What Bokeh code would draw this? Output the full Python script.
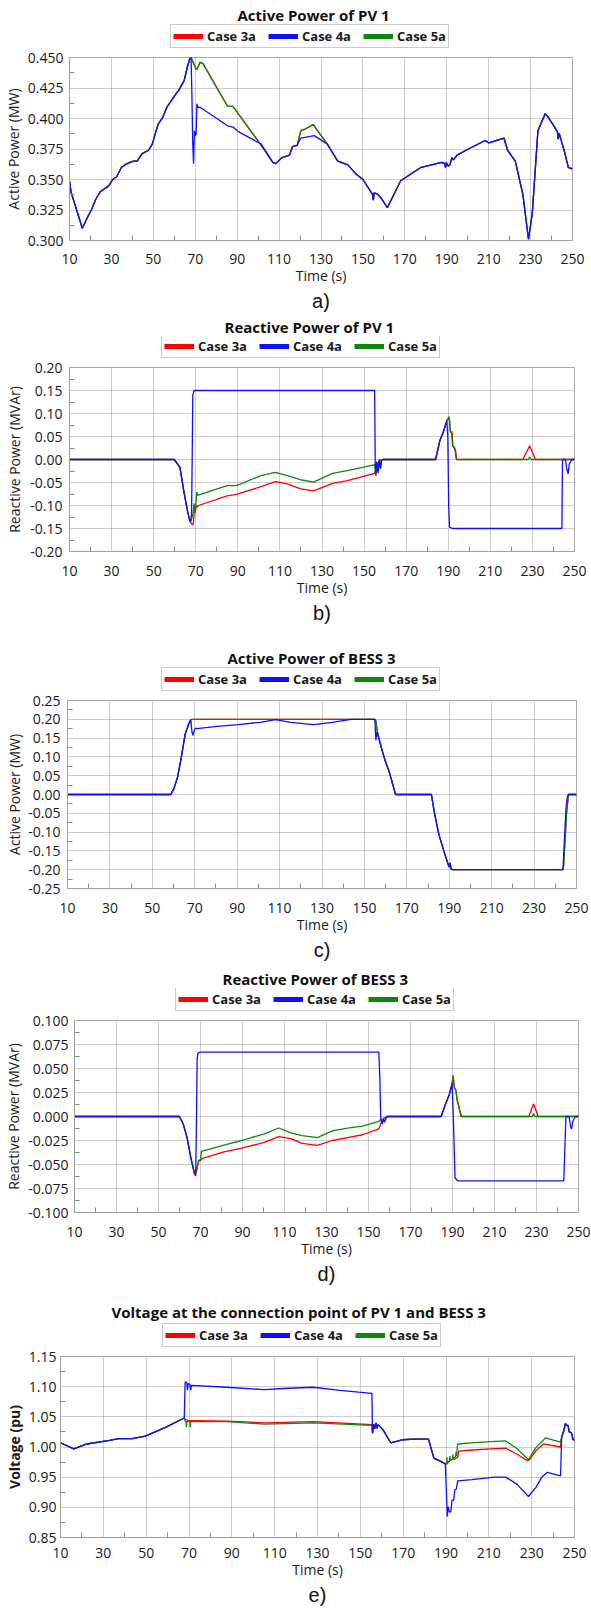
from bokeh.plotting import figure
from bokeh.models import (Legend, LegendItem, Title, FixedTicker,
                          NumeralTickFormatter, Range1d)
from bokeh.embed import file_html
from bokeh.resources import INLINE

FONT = "Open Sans"
CAP_FONT = "Liberation Sans"
RED, BLUE, GREEN = "#ff0000", "#1010ff", "#0f870f"
CASES = ["Case 3a", "Case 4a", "Case 5a"]
X_TICKS = list(range(10, 251, 20))
X_MINOR = list(range(20, 250, 20))
NAN = float("nan")


def splice(bt, bv, *segs):
    t, v = list(bt), list(bv)
    for st, sv in segs:
        before = [(a, b) for a, b in zip(t, v) if a < st[0]]
        after = [(a, b) for a, b in zip(t, v) if a > st[-1]]
        merged = before + list(zip(st, sv)) + after
        t = [m[0] for m in merged]
        v = [m[1] for m in merged]
    return t, v

# ---------------- a) Active Power of PV 1 ----------------
a_t_4a = [10, 10.7, 16.1, 18.6, 20.4, 22.6, 24.7, 28.8, 30.6, 32.4, 34.8, 37.5, 40.5, 42.3,
          44.5, 47.7, 49.5, 52.2, 54.5, 56.7, 60.3, 62.1, 64.7, 66.2, 67.4, 68.0, 68.4, 68.8,
          69.2, 69.6, 70.0, 70.4, 70.8, 71.3, 72.5, 85.4, 88.0, 90.8, 101.5, 107.0, 108.4,
          111.4, 115.0, 116.4, 118.6, 120.4, 126.7, 133.0, 138.0, 142.8, 146.4, 150.0, 154.5,
          155.0, 155.3, 157.0, 158.6, 161.7, 168.0, 177.8, 187.7, 189.0, 189.4, 189.8, 190.6,
          191.5, 192.5, 193.2, 194.9, 200.3, 208.3, 210.1, 217.3, 219.0, 222.7, 226.3, 229.0,
          230.8, 233.5, 237.0, 238.0, 240.7, 242.8, 243.2, 243.6, 246.0, 248.0, 249.2, 250.0]
a_v_4a = [0.349, 0.340, 0.310, 0.319, 0.325, 0.334, 0.340, 0.345, 0.350, 0.352, 0.360, 0.363,
          0.365, 0.365, 0.371, 0.374, 0.379, 0.395, 0.401, 0.410, 0.419, 0.423, 0.431, 0.442,
          0.449, 0.450, 0.420, 0.380, 0.363, 0.390, 0.386, 0.387, 0.412, 0.409, 0.409, 0.394,
          0.393, 0.389, 0.379, 0.364, 0.363, 0.368, 0.370, 0.377, 0.378, 0.384, 0.386, 0.379,
          0.365, 0.362, 0.355, 0.350, 0.338, 0.333, 0.339, 0.338, 0.335, 0.327, 0.349, 0.360,
          0.364, 0.363, 0.360, 0.364, 0.361, 0.362, 0.368, 0.366, 0.370, 0.375, 0.382, 0.380,
          0.384, 0.374, 0.365, 0.338, 0.301, 0.322, 0.390, 0.404, 0.402, 0.395, 0.389, 0.383,
          0.388, 0.374, 0.360, 0.359, 0.359]
a_seg1_t = [68.0, 69.0, 70.0, 70.7, 72.3, 73.7, 85.4, 88.0, 101.5]
a_seg1_v = [0.450, 0.446, 0.442, 0.440, 0.446, 0.445, 0.410, 0.410, 0.378]
a_seg2_t = [118.6, 120.4, 122.0, 126.3, 133.0]
a_seg2_v = [0.378, 0.390, 0.391, 0.395, 0.379]

# ---------------- b) Reactive Power of PV 1 ----------------
b_t_4a = [10, 59.8, 62.5, 64.3, 66.0, 67.0, 67.5, 68.0, 68.3, 68.6, 69.2, 155.0, 155.3, 155.6,
          156.0, 156.6, 157.2, 157.8, 158.3, 159.0, 184.0, 186.0, 187.9, 189.3, 189.8, 190.2,
          190.6, 192.0, 244.0, 244.3, 245.7, 246.3, 247.0, 247.5, 248.8, 250]
b_v_4a = [0, 0, -0.017, -0.068, -0.110, -0.130, -0.136, -0.120, 0.0, 0.140, 0.150, 0.150,
          -0.010, -0.035, -0.005, -0.030, -0.002, -0.020, -0.002, 0.0, 0.0, 0.041, 0.063, 0.084,
          0.050, -0.100, -0.147, -0.150, -0.150, 0.0, 0.0, -0.020, -0.031, -0.010, 0.0, 0.0]
b_t_5a_1 = [67.5, 68.3, 68.7, 69.2, 69.7, 70.2, 70.5, 70.9, 84.9, 89.3, 101.0, 107.8, 113.5,
            119.8, 126.0, 135.0, 142.0, 149.3, 155.0, 155.6, 156.0, 156.6, 157.2, 158.0]
b_v_5a_1 = [-0.136, -0.125, -0.118, -0.095, -0.115, -0.090, -0.071, -0.078, -0.057, -0.057,
            -0.035, -0.028, -0.035, -0.044, -0.049, -0.030, -0.024, -0.017, -0.011, -0.030,
            -0.005, -0.025, -0.002, 0.0]
b_t_5a_2 = [184.0, 186.0, 187.9, 189.3, 190.0, 190.5, 191.0, 191.6, 192.0, 192.6, 193.2,
            193.8, 228.0, 228.7, 229.4, 250]
b_v_5a_2 = [0.0, 0.041, 0.063, 0.084, 0.090, 0.093, 0.060, 0.058, 0.030, 0.026, 0.020, 0.0,
            0.0, 0.005, 0.0, 0.0]
b_t_3a_1 = [67.5, 67.9, 68.8, 69.4, 69.8, 70.2, 70.5, 71.3, 84.9, 89.3, 101.0, 107.8, 113.5,
            119.8, 126.0, 135.0, 142.0, 149.3, 155.0, 155.6, 156.5, 157.5]
b_v_3a_1 = [-0.136, -0.140, -0.142, -0.110, -0.116, -0.100, -0.104, -0.100, -0.079, -0.076,
            -0.059, -0.048, -0.053, -0.064, -0.068, -0.052, -0.046, -0.037, -0.030, -0.020,
            -0.010, 0.0]
b_t_3a_2 = [184.0, 186.0, 187.9, 189.3, 190.0, 190.5, 191.0, 191.8, 192.2, 192.8, 193.5,
            194.0, 225.5, 228.7, 231.4, 250]
b_v_3a_2 = [0.0, 0.041, 0.063, 0.084, 0.088, 0.091, 0.060, 0.060, 0.030, 0.028, 0.020, 0.0,
            0.0, 0.030, 0.0, 0.0]

# ---------------- c) Active Power of BESS 3 ----------------
c_t_4a = [10, 58.7, 60.1, 61.9, 63.7, 65.5, 67.2, 68.1, 68.7, 69.2, 69.7, 70.4, 71.0, 80.6,
          90.4, 101.0, 108.1, 115.2, 125.9, 134.8, 143.7, 154.9, 155.4, 155.9, 156.5, 157.9,
          159.7, 161.5, 164.7, 181.6, 182.8, 185.0, 187.3, 189.9, 190.4, 190.8, 191.5, 243.6,
          245.0, 245.6, 246.2, 250]
c_v_4a = [0, 0, 0.015, 0.046, 0.100, 0.161, 0.188, 0.199, 0.166, 0.157, 0.170, 0.177, 0.175,
          0.181, 0.186, 0.192, 0.199, 0.192, 0.186, 0.192, 0.200, 0.200, 0.144, 0.166, 0.155,
          0.126, 0.091, 0.064, 0.0, 0.0, -0.042, -0.104, -0.148, -0.193, -0.182, -0.198, -0.200,
          -0.200, -0.042, -0.008, 0.0, 0.0]
c_t_5a_1 = [68.1, 69.0, 154.9, 155.4, 156.0, 157.9]
c_v_5a_1 = [0.199, 0.200, 0.200, 0.195, 0.170, 0.126]
c_t_5a_2 = [243.6, 243.9, 245.3, 246.2]
c_v_5a_2 = [-0.200, -0.190, -0.050, 0.0]

# ---------------- d) Reactive Power of BESS 3 ----------------
d_t_4a = [10, 60, 61.8, 63.6, 65.4, 67.2, 67.7, 68.0, 68.4, 68.8, 69.9, 154.9, 155.4, 155.8,
          156.5, 157.1, 157.6, 158.8, 184.6, 186.7, 188.5, 189.8, 190.4, 191.2, 192.5, 243.0,
          244.0, 245.5, 246.2, 246.7, 247.3, 248.4, 250]
d_v_4a = [0, 0, -0.008, -0.022, -0.043, -0.060, -0.058, -0.020, 0.060, 0.066, 0.067, 0.067,
          0.040, -0.001, -0.008, -0.002, -0.006, 0.0, 0.0, 0.013, 0.023, 0.034, 0.0, -0.064,
          -0.067, -0.067, 0.0, 0.0, -0.010, -0.013, -0.005, 0.0, 0.0]
d_t_5a_1 = [67.7, 68.1, 69.0, 70.0, 70.5, 71.0, 80.7, 89.6, 100.4, 107.3, 113.0, 118.4, 125.6,
            132.8, 140.0, 147.2, 154.9, 155.8, 156.5, 157.1, 158.8]
d_v_5a_1 = [-0.058, -0.057, -0.046, -0.045, -0.036, -0.036, -0.030, -0.025, -0.018, -0.012,
            -0.017, -0.020, -0.022, -0.015, -0.012, -0.010, -0.005, -0.003, -0.008, -0.002, 0.0]
d_t_5a_2 = [184.6, 186.7, 188.5, 189.8, 190.3, 190.8, 191.6, 192.2, 192.8, 193.5, 194.4,
            228.0, 228.6, 229.2, 250]
d_v_5a_2 = [0.0, 0.013, 0.023, 0.034, 0.043, 0.030, 0.028, 0.017, 0.012, 0.006, 0.0, 0.0,
            0.003, 0.0, 0.0]
d_t_3a_1 = [67.7, 68.4, 69.3, 69.9, 70.8, 80.7, 89.6, 100.4, 107.3, 113.0, 118.4, 125.6,
            132.8, 140.0, 147.2, 154.9, 155.8, 156.5, 158.8]
d_v_3a_1 = [-0.062, -0.053, -0.046, -0.046, -0.044, -0.037, -0.033, -0.027, -0.021, -0.023,
            -0.028, -0.030, -0.025, -0.022, -0.019, -0.013, -0.008, -0.004, 0.0]
d_t_3a_2 = [184.6, 186.7, 188.5, 189.8, 190.3, 191.0, 191.6, 192.2, 192.8, 194.0, 226.3,
            228.6, 230.8, 250]
d_v_3a_2 = [0.0, 0.013, 0.023, 0.034, 0.042, 0.030, 0.027, 0.017, 0.013, 0.0, 0.0, 0.013,
            0.0, 0.0]

# ---------------- e) Voltage at the connection point ----------------
e_t_4a = [10, 16.2, 22.3, 32.9, 37.3, 43.5, 49.6, 59.3, 67.8, 68.2, 69.0, 69.3, 69.6, 70.4,
          70.8, 71.1, 71.3, 87.5, 105.2, 114.0, 128.0, 140.4, 149.2, 155.4, 155.7, 156.2, 156.7,
          157.3, 157.8, 158.3, 160.7, 164.2, 169.5, 175.6, 181.8, 184.4, 187.1, 189.7, 190.6,
          191.0, 191.6, 192.3, 192.8, 193.6, 194.1, 194.8, 195.5, 202.0, 212.6, 217.9, 223.2,
          228.5, 232.0, 234.7, 237.3, 243.5, 244.0, 244.6, 245.8, 246.3, 247.0, 247.5, 248.5,
          249.4, 250]
e_v_4a = [1.007, 0.997, 1.005, 1.011, 1.014, 1.014, 1.018, 1.033, 1.048, 1.108, 1.106, 1.094,
          1.105, 1.104, 1.094, 1.102, 1.102, 1.099, 1.095, 1.097, 1.099, 1.094, 1.091, 1.089,
          1.023, 1.038, 1.030, 1.040, 1.031, 1.037, 1.028, 1.007, 1.012, 1.013, 1.013, 0.981,
          0.977, 0.972, 0.885, 0.901, 0.892, 0.893, 0.912, 0.912, 0.929, 0.930, 0.944, 0.946,
          0.950, 0.950, 0.938, 0.918, 0.933, 0.950, 0.958, 0.952, 1.017, 1.022, 1.039, 1.036,
          1.036, 1.025, 1.024, 1.012, 1.012]
e_t_3a_1 = [67.8, 68.2, 69.4, 87.5, 105.2, 128.0, 155.4]
e_v_3a_1 = [1.048, 1.046, 1.044, 1.043, 1.040, 1.042, 1.037]
e_t_3a_2 = [189.7, 190.6, 191.2, 192.0, 193.0, 194.0, 195.5, 195.9, 202.0, 210.8, 217.9,
            223.2, 227.6, 228.8, 232.0, 235.5, 243.5]
e_v_3a_2 = [0.972, 0.972, 0.976, 0.978, 0.980, 0.980, 0.983, 0.993, 0.995, 0.997, 0.998,
            0.988, 0.978, 0.978, 0.994, 1.005, 1.000]
e_t_5a_1 = [67.8, 68.2, 68.6, 68.8, 69.0, 70.4, 70.6, 70.8, 87.5, 105.2, 128.0, 155.4]
e_v_5a_1 = [1.048, 1.043, 1.042, 1.033, 1.042, 1.042, 1.033, 1.042, 1.042, 1.038, 1.040, 1.036]
e_t_5a_2 = [189.7, 190.2, 190.4, 190.6, 191.6, 191.8, 192.0, 193.0, 193.2, 193.4, 194.5,
            194.7, 195.0, 195.4, 202.0, 210.8, 217.9, 223.2, 228.5, 232.0, 236.4, 243.5]
e_v_5a_2 = [0.972, 0.972, 0.983, 0.974, 0.976, 0.985, 0.978, 0.980, 0.988, 0.981, 0.984,
            0.992, 0.985, 1.005, 1.007, 1.009, 1.010, 0.997, 0.979, 0.999, 1.015, 1.008]

# series per panel: (t, v) for Case 3a, 4a, 5a
a_5a = splice(a_t_4a, a_v_4a, (a_seg1_t, a_seg1_v), (a_seg2_t, a_seg2_v))
a_series = [a_5a, (a_t_4a, a_v_4a), a_5a]
b_series = [splice(b_t_4a, b_v_4a, (b_t_3a_1, b_v_3a_1), (b_t_3a_2, b_v_3a_2)),
            (b_t_4a, b_v_4a),
            splice(b_t_4a, b_v_4a, (b_t_5a_1, b_v_5a_1), (b_t_5a_2, b_v_5a_2))]
c_5a = splice(c_t_4a, c_v_4a, (c_t_5a_1, c_v_5a_1), (c_t_5a_2, c_v_5a_2))
c_series = [c_5a, (c_t_4a, c_v_4a), c_5a]
d_series = [splice(d_t_4a, d_v_4a, (d_t_3a_1, d_v_3a_1), (d_t_3a_2, d_v_3a_2)),
            (d_t_4a, d_v_4a),
            splice(d_t_4a, d_v_4a, (d_t_5a_1, d_v_5a_1), (d_t_5a_2, d_v_5a_2))]
e_series = [splice(e_t_4a, e_v_4a, (e_t_3a_1, e_v_3a_1), (e_t_3a_2, e_v_3a_2)),
            (e_t_4a, e_v_4a),
            splice(e_t_4a, e_v_4a, (e_t_5a_1, e_v_5a_1), (e_t_5a_2, e_v_5a_2))]

titles = ["Active Power of PV 1", "Reactive Power of PV 1", "Active Power of BESS 3",
          "Reactive Power of BESS 3", "Voltage at the connection point of PV 1 and BESS 3"]
captions = ["a)", "b)", "c)", "d)", "e)"]
y_labels = ["Active Power (MW)", "Reactive Power (MVAr)", "Active Power (MW)",
            "Reactive Power (MVAr)", "Voltage (pu)"]
y_ticks = [[0.300, 0.325, 0.350, 0.375, 0.400, 0.425, 0.450],
           [-0.20, -0.15, -0.10, -0.05, 0.00, 0.05, 0.10, 0.15, 0.20],
           [-0.25, -0.20, -0.15, -0.10, -0.05, 0.00, 0.05, 0.10, 0.15, 0.20, 0.25],
           [-0.100, -0.075, -0.050, -0.025, 0.000, 0.025, 0.050, 0.075, 0.100],
           [0.85, 0.90, 0.95, 1.00, 1.05, 1.10, 1.15]]
y_formats = ["0.000", "0.00", "0.00", "0.000", "0.00"]
all_series = [a_series, b_series, c_series, d_series, e_series]

# page layout in pixels
# h: header (top, bottom, title slot, title x, legend x, legend gap to header bottom)
# m: main (frame left, frame top, frame right, frame bottom, figure bottom)
layout_cfg = [
    dict(h=(0, 49, 24, 237, 170, 1), m=(68, 57, 572, 240, 313), ylab=(6, 2), xlab=13),
    dict(h=(313, 359, 23, 224, 161, 1), m=(69, 367, 574, 551, 629), ylab=(7, 3), xlab=14),
    dict(h=(629, 692, 38, 227, 161, 1), m=(67, 700, 576, 888, 966), ylab=(7, 1), xlab=14),
    dict(h=(966, 1012, 20, 222, 175, 1), m=(74, 1020, 578, 1212, 1288), ylab=(6, 2), xlab=14),
    dict(h=(1288, 1348, 33, 111, 162, 1), m=(60, 1356, 574, 1537, 1610), ylab=(4, 2), xlab=10),
]

roots = []
for i in range(5):
    cfg = layout_cfg[i]
    htop, hbot, tslot, tx, lx, lgap = cfg["h"]
    fl, ft, fr, fb, mbot = cfg["m"]
    cols = [RED, BLUE, GREEN]

    # ---- header: title + legend ----
    hd = figure(width=591, height=hbot - htop, x_range=Range1d(0, 1), y_range=Range1d(0, 1),
                x_axis_type=None, y_axis_type=None, output_backend="svg",
                toolbar_location=None, min_border_left=0, min_border_right=0,
                min_border_top=tslot, min_border_bottom=0,
                background_fill_color="white", border_fill_color="white")
    hd.outline_line_color = None
    hd.title.text = titles[i]
    hd.title.align = "left"
    hd.title.offset = tx
    hd.title.text_font = FONT
    hd.title.text_font_size = "15px"
    hd.title.text_font_style = "bold"
    hd.title.text_color = "#111111"
    hd.title.standoff = 0
    swatches = [hd.line([NAN], [NAN], line_color=c, line_width=5) for c in cols]
    legend = Legend(items=[LegendItem(label=lab, renderers=[r]) for lab, r in zip(CASES, swatches)],
                    orientation="horizontal", location=(lx, lgap),
                    margin=0, padding=2, spacing=12, label_standoff=4,
                    glyph_width=30, glyph_height=16, label_height=16, label_width=49,
                    label_text_font=FONT, label_text_font_size="13px",
                    label_text_font_style="bold", label_text_color="#1a1a1a",
                    border_line_color="#9a9a9a", border_line_width=1,
                    background_fill_color="white", background_fill_alpha=1.0)
    hd.add_layout(legend)
    roots.append(hd)

    # ---- main plot ----
    yt = y_ticks[i]
    step = yt[1] - yt[0]
    p = figure(width=591, height=mbot - hbot,
               x_range=Range1d(10, 250), y_range=Range1d(yt[0], yt[-1]),
               output_backend="svg", toolbar_location=None,
               min_border_left=fl, min_border_right=591 - fr,
               min_border_top=ft - hbot, min_border_bottom=mbot - fb,
               background_fill_color="white", border_fill_color="white")
    p.outline_line_color = "#a8a8a8"
    p.outline_line_width = 1
    for k in [0, 2, 1]:
        t, v = all_series[i][k]
        p.line(t, v, line_color=cols[k], line_width=1.3)

    cap = Title(text=captions[i], align="center", text_font=CAP_FONT, text_font_size="20px",
                text_font_style="normal", text_color="#111111", standoff=0)
    p.add_layout(cap, "below")

    p.xaxis.ticker = FixedTicker(ticks=X_TICKS, minor_ticks=X_MINOR)
    minor_y = [round(a + step / 2, 4) for a in yt[:-1]]
    p.yaxis.ticker = FixedTicker(ticks=yt, minor_ticks=minor_y)
    p.yaxis.formatter = NumeralTickFormatter(format=y_formats[i])
    p.xaxis.axis_label = "Time (s)"
    p.yaxis.axis_label = y_labels[i]
    for ax in (p.xaxis[0], p.yaxis[0]):
        ax.axis_line_color = "#a0a0a0"
        ax.major_tick_in = 0
        ax.major_tick_out = 0
        ax.minor_tick_in = 5
        ax.minor_tick_out = 0
        ax.minor_tick_line_color = "#8c8c8c"
        ax.major_label_text_font = FONT
        ax.major_label_text_font_size = "14px"
        ax.major_label_text_color = "#1a1a1a"
        ax.axis_label_text_font = FONT
        ax.axis_label_text_font_size = "14px"
        ax.axis_label_text_font_style = "normal"
        ax.axis_label_text_color = "#1a1a1a"
    if i == 4:
        p.yaxis.axis_label_text_font_style = "bold"
    p.xaxis.major_label_standoff = cfg["xlab"]
    p.xaxis.axis_label_standoff = -1
    p.yaxis.major_label_standoff = cfg["ylab"][0]
    p.yaxis.axis_label_standoff = cfg["ylab"][1]

    for g in (p.xgrid[0], p.ygrid[0]):
        g.grid_line_color = "#9c9c9c"
        g.grid_line_dash = "1 1"
        g.grid_line_width = 1
    p.xgrid.ticker = FixedTicker(ticks=X_TICKS)
    p.ygrid.ticker = FixedTicker(ticks=yt)
    roots.append(p)

open("out.html", "w").write(file_html(roots, INLINE))
